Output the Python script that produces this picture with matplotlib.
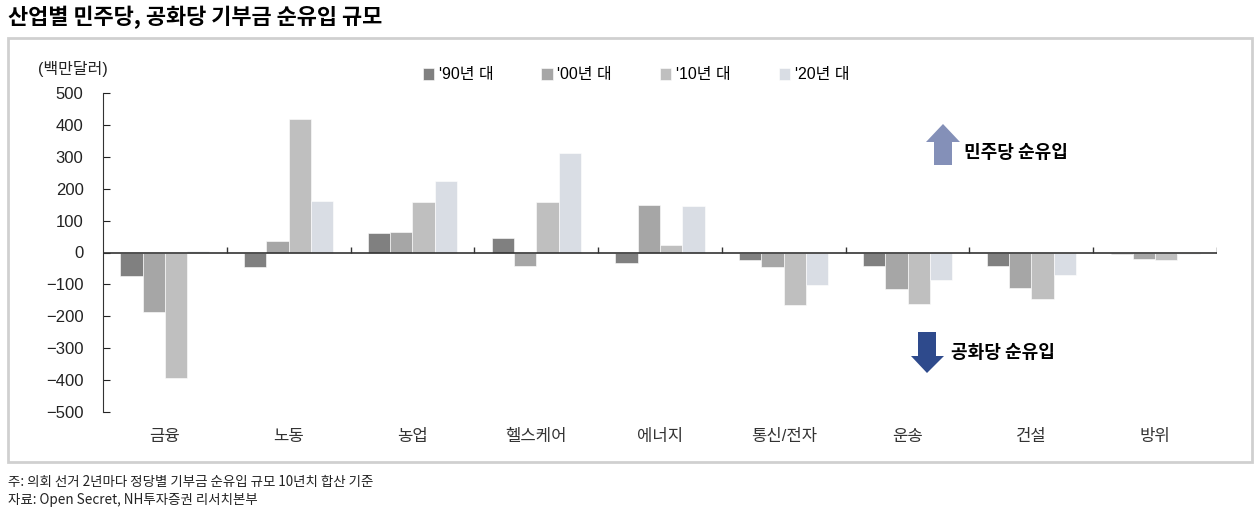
import numpy as np
import matplotlib.pyplot as plt
import matplotlib.patches as mpatches

plt.rcParams['font.family'] = ['Liberation Sans Narrow', 'Liberation Sans', 'Noto Sans CJK KR']

# data (백만달러)
categories = ['금융', '노동', '농업', '헬스케어', '에너지', '통신/전자', '운송', '건설', '방위']
series = ["'90년 대", "'00년 대", "'10년 대", "'20년 대"]
v90 = [-75, -46, 62, 44, -33, -23, -42, -42, -6]
v00 = [-185, 35, 65, -43, 148, -44, -115, -111, -19]
v10 = [-393, 417, 157, 158, 23, -166, -160, -145, -25]
v20 = [5, 160, 224, 313, 147, -103, -86, -71, -5]
colors = ['#808080', '#a6a6a6', '#bfbfbf', '#d9dde4']

W, H = 1258, 512
fig = plt.figure(figsize=(W / 100, H / 100), dpi=100)

def fx(x):
    return x / W

def fy(y):
    return 1 - y / H

# outer frame
fig.patches.append(mpatches.Rectangle((fx(8), fy(462)), fx(1244), 424 / H, transform=fig.transFigure,
                                      fill=False, edgecolor='#d0d0d0', linewidth=2))

ax = fig.add_axes([fx(103), fy(412), fx(1217 - 103), (412 - 93) / H])

x = np.arange(len(categories))
bw = 0.18
handles = []
for i, (vals, c) in enumerate(zip([v90, v00, v10, v20], colors)):
    b = ax.bar(x + (i - 1.5) * bw, vals, bw, color=c, edgecolor='white', linewidth=0.4, label=series[i])
    handles.append(b)

ax.set_xlim(-0.5, len(categories) - 0.5)
ax.set_ylim(-500, 500)
ax.set_yticks(np.arange(-500, 501, 100))
ax.tick_params(axis='y', direction='in', length=5, pad=14, labelsize=12, colors='#222222')
ax.set_xticks(x)
ax.set_xticklabels(categories, fontsize=12, color='#333333')
ax.tick_params(axis='x', length=0, pad=12)
for s in ['top', 'right', 'bottom']:
    ax.spines[s].set_visible(False)
ax.spines['left'].set_color('#333333')
ax.axhline(0, color='#333333', linewidth=1.2)
ax.vlines(x + 0.5, 0, 16, color='#333333', linewidth=1)

ax.legend(handles=handles, ncol=4, loc='center', bbox_to_anchor=(fx(636), fy(75)),
          bbox_transform=fig.transFigure, frameon=False, fontsize=11.5,
          handlelength=0.7, handleheight=0.7, handletextpad=0.3, columnspacing=3.0)

# titles and notes
fig.text(fx(8), fy(17), '산업별 민주당, 공화당 기부금 순유입 규모', fontsize=15.8, fontweight='bold',
         family='Noto Sans CJK KR', va='center', ha='left')
fig.text(fx(38), fy(69), '(백만달러)', fontsize=11.5, va='center', ha='left', color='#222222')
fig.text(fx(8), fy(482), '주: 의회 선거 2년마다 정당별 기부금 순유입 규모 10년치 합산 기준', fontsize=9.7,
         family='Noto Sans CJK KR', va='center', ha='left', color='#222222')
fig.text(fx(8), fy(500), '자료: Open Secret, NH투자증권 리서치본부', fontsize=9.7,
         family='Noto Sans CJK KR', va='center', ha='left', color='#222222')

# direction arrows
up = [(934, 165), (934, 142), (926, 142), (943, 124), (960, 142), (952, 142), (952, 165)]
down = [(918, 332), (936, 332), (936, 356), (944, 356), (927, 373), (911, 356), (918, 356)]
fig.patches.append(mpatches.Polygon([(fx(a), fy(b)) for a, b in up], closed=True,
                                    transform=fig.transFigure, facecolor='#8490b8', edgecolor='none'))
fig.patches.append(mpatches.Polygon([(fx(a), fy(b)) for a, b in down], closed=True,
                                    transform=fig.transFigure, facecolor='#2e4a8c', edgecolor='none'))
fig.text(fx(964), fy(152), '민주당 순유입', fontsize=13, fontweight='bold', family='Noto Sans CJK KR',
         va='center', ha='left')
fig.text(fx(951), fy(353), '공화당 순유입', fontsize=13, fontweight='bold', family='Noto Sans CJK KR',
         va='center', ha='left')

fig.savefig('out.png', dpi=100)
